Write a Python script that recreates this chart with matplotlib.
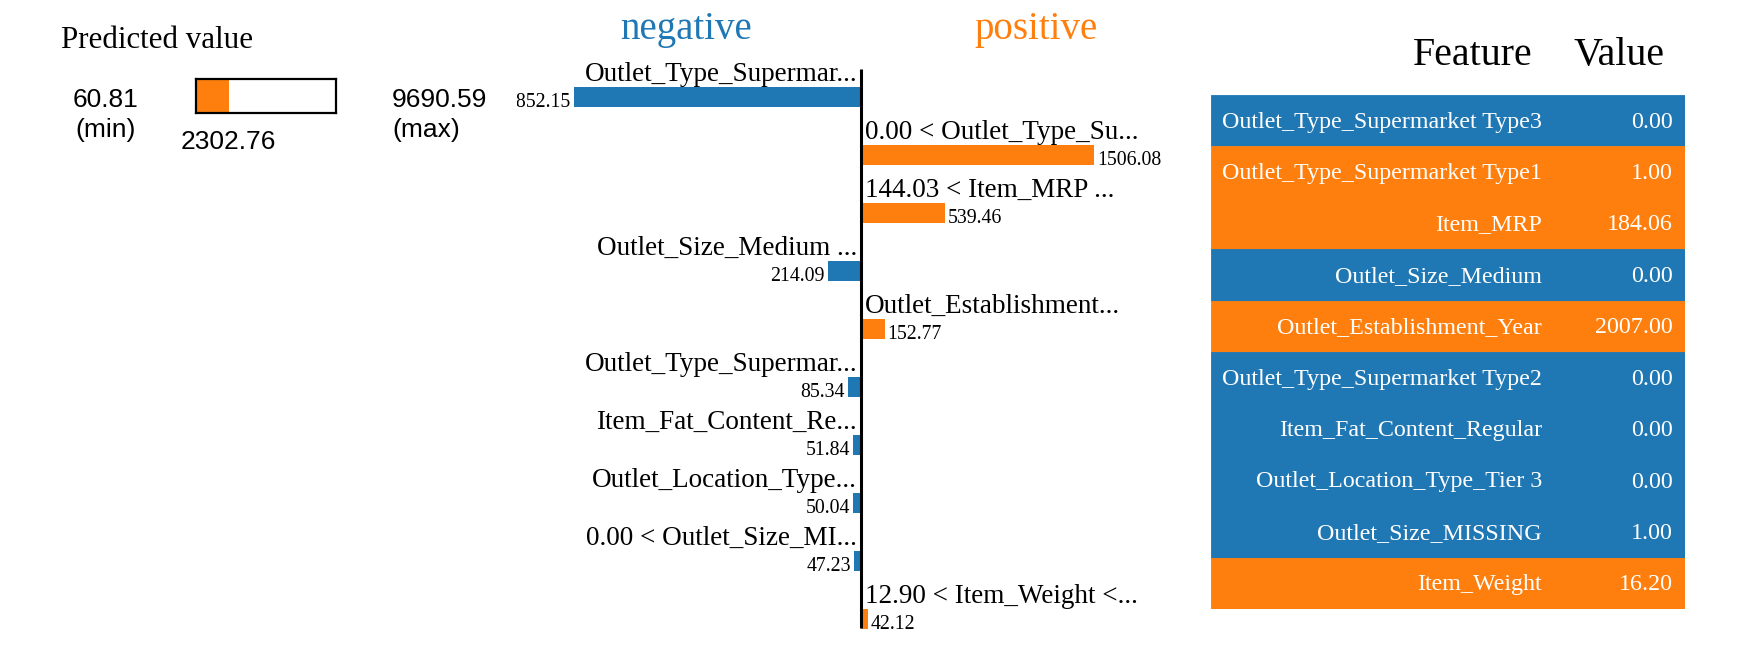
import matplotlib
matplotlib.use("Agg")
import matplotlib.pyplot as plt

W, H = 1760, 662
BLUE = "#1f77b4"
ORANGE = "#ff7f0e"
SERIF = ["Liberation Serif", "DejaVu Serif"]
SANS = ["Liberation Sans", "DejaVu Sans"]

# ── data ────────────────────────────────────────────────────────────────
pred_min = 60.81
pred_max = 9690.59
pred_value = 2302.76

bar_labels = [
    "Outlet_Type_Supermar...",
    "0.00 < Outlet_Type_Su...",
    "144.03 < Item_MRP ...",
    "Outlet_Size_Medium ...",
    "Outlet_Establishment...",
    "Outlet_Type_Supermar...",
    "Item_Fat_Content_Re...",
    "Outlet_Location_Type...",
    "0.00 < Outlet_Size_MI...",
    "12.90 < Item_Weight <...",
]
bar_weights = [-1852.15, 1506.08, 539.46, -214.09, 152.77,
               -85.34, -51.84, -50.04, -47.23, 42.12]

table_features = [
    "Outlet_Type_Supermarket Type3",
    "Outlet_Type_Supermarket Type1",
    "Item_MRP",
    "Outlet_Size_Medium",
    "Outlet_Establishment_Year",
    "Outlet_Type_Supermarket Type2",
    "Item_Fat_Content_Regular",
    "Outlet_Location_Type_Tier 3",
    "Outlet_Size_MISSING",
    "Item_Weight",
]
table_values = [0.00, 1.00, 184.06, 0.00, 2007.00, 0.00, 0.00, 0.00, 1.00, 16.20]


def px_axes(fig, x0, y0, x1, y1):
    """Axes placed by pixel box (top-left origin)."""
    return fig.add_axes([x0 / W, 1 - y1 / H, (x1 - x0) / W, (y1 - y0) / H])


fig = plt.figure(figsize=(W / 100, H / 100), dpi=100)

# overlay in pixel space for free-standing text
ov = fig.add_axes([0, 0, 1, 1])
ov.set_xlim(0, W)
ov.set_ylim(H, 0)
ov.axis("off")

# ── Predicted value panel ──────────────────────────────────────────────
ov.text(61, 48, "Predicted value", ha="left", va="baseline",
        fontsize=22.3, family=SERIF)
ov.text(105.5, 107, f"{pred_min:.2f}", ha="center", va="baseline",
        fontsize=19, family=SANS)
ov.text(105.5, 137, "(min)", ha="center", va="baseline", fontsize=19, family=SANS)
ov.text(392, 107, f"{pred_max:.2f}", ha="left", va="baseline",
        fontsize=19, family=SANS)
ov.text(392, 137, "(max)", ha="left", va="baseline", fontsize=19, family=SANS)

pb = px_axes(fig, 196, 79, 336, 113)
pb.barh([0], [pred_value - pred_min], left=pred_min, height=1, color=ORANGE)
pb.set_xlim(pred_min, pred_max)
pb.set_ylim(-0.5, 0.5)
pb.set_xticks([])
pb.set_yticks([])
for sp in pb.spines.values():
    sp.set_linewidth(1.6)
    sp.set_color("black")
pb.annotate(f"{pred_value:.2f}", xy=(pred_value, -0.5), xytext=(0, -36),
            textcoords="offset pixels", ha="center", va="baseline",
            fontsize=19, family=SANS, annotation_clip=False)

# ── Contribution bars ──────────────────────────────────────────────────
ov.text(686, 39, "negative", ha="center", va="baseline", color=BLUE,
        fontsize=28, family=SERIF)
ov.text(1036, 39, "positive", ha="center", va="baseline", color=ORANGE,
        fontsize=28, family=SERIF)

# the bar panel is clipped on the left, as in the original html widget
clip_left, zero_x, panel_right = 517, 861, 1211
bx = px_axes(fig, clip_left, 0, panel_right, H)
scale = 0.155  # px per unit
bh = 19.5 / 58
ypos = list(range(len(bar_weights)))
bar_colors = [ORANGE if w > 0 else BLUE for w in bar_weights]
bx.barh(ypos, bar_weights, height=bh, color=bar_colors, linewidth=0)
bx.set_xlim(-(zero_x - clip_left) / scale, (panel_right - zero_x) / scale)
bx.set_ylim((H - 97) / 58, -97 / 58)
bx.axis("off")
bx.plot([0, 0], [(69 - 97) / 58, (628 - 97) / 58], color="black", lw=2.2,
        solid_capstyle="butt", zorder=5)

for i, (lab, w) in enumerate(zip(bar_labels, bar_weights)):
    top, bottom = i - bh / 2, i + bh / 2
    side = 1 if w > 0 else -1
    ha = "left" if w > 0 else "right"
    bx.annotate(lab, xy=(0, top), xytext=(4 * side, 6), textcoords="offset pixels",
                ha=ha, va="baseline", fontsize=19.5, family=SERIF)
    bx.annotate(f"{abs(w):.2f}", xy=(w, bottom), xytext=(3 * side, 0),
                textcoords="offset pixels", ha=ha, va="baseline",
                fontsize=14.3, family=SERIF, clip_on=True)

# ── Feature / Value table ──────────────────────────────────────────────
ov.text(1533, 65, "Feature", ha="right", va="baseline", fontsize=28.8, family=SERIF)
ov.text(1664, 65, "Value", ha="right", va="baseline", fontsize=28.8, family=SERIF)

tx = px_axes(fig, 1211, 95, 1685, 609)
row_colors = [ORANGE if w > 0 else BLUE for w in bar_weights]
tx.barh(ypos, 1, height=1, left=0, color=row_colors, edgecolor=row_colors,
        linewidth=0.6)
tx.set_xlim(0, 1)
tx.set_ylim(len(ypos) - 0.5, -0.5)
tx.axis("off")
for i, (name, val) in enumerate(zip(table_features, table_values)):
    tx.annotate(name, xy=((1542 - 1211) / 474, i), xytext=(0, -7),
                textcoords="offset pixels", ha="right", va="baseline",
                color="white", fontsize=17.3, family=SERIF)
    tx.annotate(f"{val:.2f}", xy=((1673 - 1211) / 474, i), xytext=(0, -7),
                textcoords="offset pixels", ha="right", va="baseline",
                color="white", fontsize=17.3, family=SERIF)

fig.savefig("out.png", dpi=100, facecolor="white")
